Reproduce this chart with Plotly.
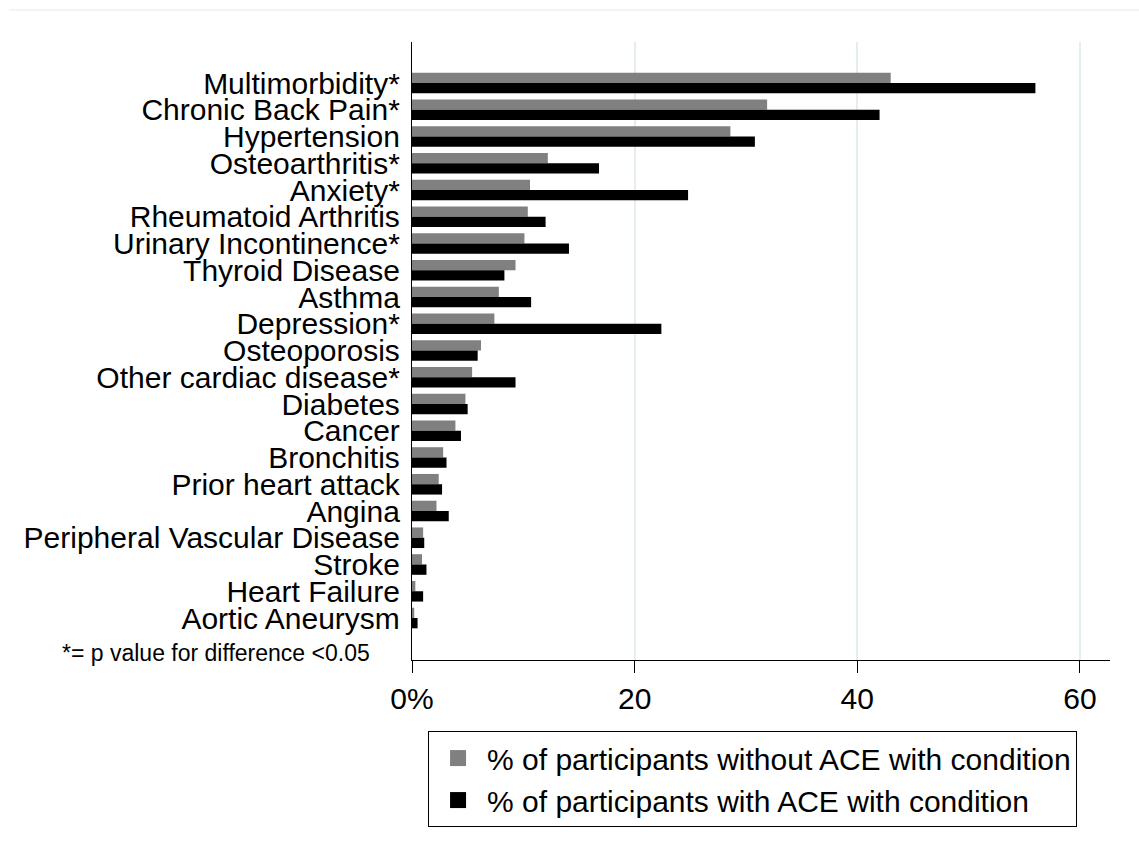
import plotly.graph_objects as go

# Conditions, ordered top to bottom
conditions = [
    "Multimorbidity*", "Chronic Back Pain*", "Hypertension", "Osteoarthritis*",
    "Anxiety*", "Rheumatoid Arthritis", "Urinary Incontinence*", "Thyroid Disease",
    "Asthma", "Depression*", "Osteoporosis", "Other cardiac disease*", "Diabetes",
    "Cancer", "Bronchitis", "Prior heart attack", "Angina",
    "Peripheral Vascular Disease", "Stroke", "Heart Failure", "Aortic Aneurysm",
]

# % of participants without ACE with condition
pct_without_ace = [43.0, 31.9, 28.6, 12.2, 10.6, 10.4, 10.1, 9.3, 7.8, 7.4,
                   6.2, 5.4, 4.8, 3.9, 2.8, 2.4, 2.2, 1.0, 0.9, 0.3, 0.2]

# % of participants with ACE with condition
pct_with_ace = [56.0, 42.0, 30.8, 16.8, 24.8, 12.0, 14.1, 8.3, 10.7, 22.4,
                5.9, 9.3, 5.0, 4.4, 3.1, 2.7, 3.3, 1.1, 1.3, 1.0, 0.5]

series_names = [
    "% of participants without ACE with condition",
    "% of participants with ACE with condition",
]
series_colors = ["#808080", "#000000"]

x_tickvals = [0, 20, 40, 60]
x_ticktext = ["0%", "20", "40", "60"]

footnote = "*= p value for difference <0.05"

FONT = "Liberation Sans, Arial, sans-serif"

fig = go.Figure()

for name, vals, color in zip(series_names, [pct_without_ace, pct_with_ace], series_colors):
    fig.add_trace(go.Bar(
        y=conditions, x=vals, orientation="h", name=name,
        marker=dict(color=color, line=dict(width=0)),
        showlegend=False,
    ))

# Legend entries with square swatches
for i, (name, color) in enumerate(zip(series_names, series_colors)):
    fig.add_trace(go.Scatter(
        x=[None], y=[None], mode="markers", name=name,
        legendgroup=f"g{i}",
        marker=dict(symbol="square", size=22, color=color),
    ))

fig.update_layout(
    width=1139, height=857,
    margin=dict(l=412, r=29, t=42, b=197),
    paper_bgcolor="white", plot_bgcolor="white",
    barmode="group", bargap=0.23, bargroupgap=0,
    font=dict(family=FONT, size=30, color="black"),
    legend=dict(
        x=0.023, y=-0.115, xanchor="left", yanchor="top",
        bordercolor="black", borderwidth=1,
        font=dict(family=FONT, size=30, color="black"),
        itemwidth=48, tracegroupgap=1,
        traceorder="normal",
    ),
    xaxis=dict(
        range=[0, 62.7],
        tickvals=x_tickvals, ticktext=x_ticktext,
        showgrid=True, gridcolor="#e3edf2", gridwidth=2,
        zeroline=False,
        showline=True, linecolor="black", linewidth=1.3,
        ticks="outside", ticklen=12, tickwidth=1.3, tickcolor="black",
        tickfont=dict(family=FONT, size=30, color="black"),
        fixedrange=True,
    ),
    yaxis=dict(
        categoryorder="array", categoryarray=conditions,
        tickmode="linear", tick0=0, dtick=1,
        range=[21.57, -1.533],
        showgrid=False, zeroline=False,
        showline=True, linecolor="black", linewidth=1.3,
        ticks="", ticklabelstandoff=5,
        tickfont=dict(family=FONT, size=30, color="black"),
        fixedrange=True,
    ),
    annotations=[dict(
        text=footnote, xref="paper", yref="paper",
        x=-0.2808, y=0.0113, xanchor="center", yanchor="middle",
        showarrow=False, font=dict(family=FONT, size=23, color="black"),
    )],
    shapes=[dict(
        type="line", xref="paper", yref="paper",
        x0=(9 - 412) / 698, x1=(1139 - 412) / 698,
        y0=(660 - 10) / 618, y1=(660 - 10) / 618,
        line=dict(color="#edf2f2", width=1.5),
    )],
)

fig.write_html("out.html")
